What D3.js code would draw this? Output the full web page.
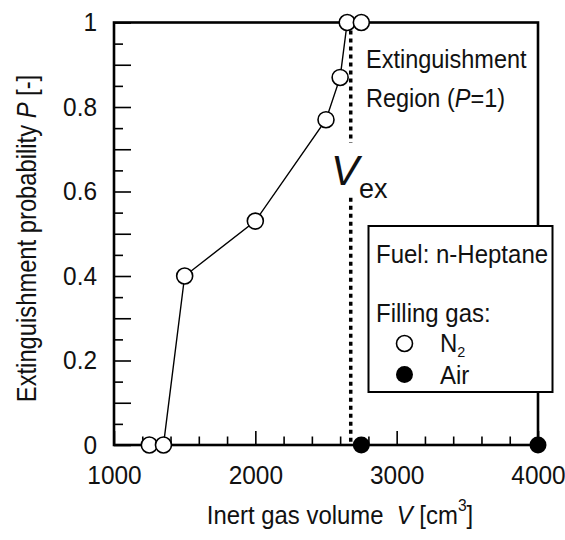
<!DOCTYPE html>
<html>
<head>
<meta charset="utf-8">
<script src="https://cdn.jsdelivr.net/npm/d3@7"></script>
<style>
  html, body { margin: 0; padding: 0; background: #fff; }
  svg { display: block; font-family: "Liberation Sans", Arial, sans-serif; }
</style>
</head>
<body>
<svg id="chart" width="565" height="540"></svg>
<script>
// Extinguishment probability vs. injected inert gas volume (n-heptane fuel)
const n2Volume = [1250, 1350, 1500, 2000, 2500, 2600, 2650, 2750];
const n2Prob   = [0,    0,    0.40, 0.53, 0.77, 0.87, 1.00, 1.00];
const airVolume = [2750, 4000];
const airProb   = [0,    0];
const vEx = 2675;

const xMajorTicks = [1000, 2000, 3000, 4000];
const xMinorTicks = [1200, 1400, 1600, 1800, 2200, 2400, 2600, 2800,
                     3200, 3400, 3600, 3800];
const yMajorTicks = [0, 0.1, 0.2, 0.3, 0.4, 0.5, 0.6, 0.7, 0.8, 0.9, 1];
const yMinorTicks = [0.05, 0.15, 0.25, 0.35, 0.45, 0.55, 0.65, 0.75, 0.85, 0.95];
const yLabelTicks = [0, 0.2, 0.4, 0.6, 0.8, 1];

const FONT = '"Liberation Sans", Arial, sans-serif';
const INK = "#111";

const svg = d3.select("#chart");
const x = d3.scaleLinear().domain([1000, 4000]).range([114, 538]);
const y = d3.scaleLinear().domain([0, 1]).range([445, 22.5]);

const n2 = n2Volume.map((v, i) => ({ v, p: n2Prob[i] }));
const air = airVolume.map((v, i) => ({ v, p: airProb[i] }));

// text placed at (px, py) in a slightly condensed face
function label(parent, px, py, size, sx, rotate = 0) {
  return parent.append("g")
    .attr("transform", `translate(${px},${py}) rotate(${rotate}) scale(${sx},1)`)
    .append("text").attr("font-size", size).attr("fill", INK).attr("font-family", FONT);
}

// inward ticks
const tickScaleX = 0.94;
const yFmt = d => yLabelTicks.includes(d) ? d3.format("")(d) : "";
const gy = svg.append("g").attr("transform", `translate(${x(1000)},0)`);
gy.call(d3.axisLeft(y).tickValues(yMajorTicks).tickSize(-17).tickPadding(17).tickFormat(yFmt));
const gyMinor = svg.append("g").attr("transform", `translate(${x(1000)},0)`);
gyMinor.call(d3.axisLeft(y).tickValues(yMinorTicks).tickSize(-9).tickFormat(""));

const gx = svg.append("g").attr("transform", `translate(0,${y(0)})`);
gx.call(d3.axisBottom(x).tickValues(xMajorTicks).tickSize(-14).tickPadding(39).tickFormat(d3.format("")));
const gxMinor = svg.append("g").attr("transform", `translate(0,${y(0)})`);
gxMinor.call(d3.axisBottom(x).tickValues(xMinorTicks).tickSize(-8.5).tickFormat(""));

[gy, gyMinor, gx, gxMinor].forEach(g => {
  g.select(".domain").remove();
  g.selectAll(".tick line").attr("stroke", "#000").attr("stroke-width", 1.6);
  g.selectAll(".tick text").attr("fill", INK).attr("font-size", 26)
    .attr("font-family", FONT).attr("transform", `scale(${tickScaleX},1)`);
});
gy.selectAll(".tick text").attr("x", -17 / tickScaleX);
gx.selectAll(".tick text").attr("dy", 0);

// plot frame
svg.append("rect")
  .attr("x", x(1000)).attr("y", y(1))
  .attr("width", x(4000) - x(1000)).attr("height", y(0) - y(1))
  .attr("fill", "none").attr("stroke", "#000").attr("stroke-width", 2.6);

// V_ex boundary (dotted), interrupted by its label
const vexSegments = [[1, 0.715], [0.585, 0]];
svg.append("g").selectAll("line").data(vexSegments).join("line")
  .attr("x1", x(vEx)).attr("x2", x(vEx))
  .attr("y1", d => y(d[0])).attr("y2", d => y(d[1]))
  .attr("stroke", "#000").attr("stroke-width", 3.5).attr("stroke-dasharray", "4 4");

// N2 connecting line up to the first P=1 point
const lineData = n2.slice(0, n2.findIndex(d => d.p === 1) + 1);
svg.append("path")
  .datum(lineData)
  .attr("fill", "none").attr("stroke", "#000").attr("stroke-width", 1.4)
  .attr("d", d3.line().x(d => x(d.v)).y(d => y(d.p)));

svg.append("g").selectAll("circle").data(n2).join("circle")
  .attr("cx", d => x(d.v)).attr("cy", d => y(d.p)).attr("r", 8)
  .attr("fill", "#fff").attr("stroke", "#000").attr("stroke-width", 1.6);

svg.append("g").selectAll("circle").data(air).join("circle")
  .attr("cx", d => x(d.v)).attr("cy", d => y(d.p)).attr("r", 8.5)
  .attr("fill", "#000");

// annotations
label(svg, 366, 68, 25, 0.94).text("Extinguishment");
const l2 = label(svg, 366, 107, 25, 0.94);
l2.append("tspan").text("Region (");
l2.append("tspan").attr("font-style", "italic").text("P");
l2.append("tspan").text("=1)");

const vt = svg.append("text").attr("x", 331).attr("y", 185).attr("fill", INK);
vt.append("tspan").attr("font-size", 42).attr("font-style", "italic").text("V");
vt.append("tspan").attr("font-size", 27).attr("dy", 13).text("ex");

// legend
const lg = svg.append("g");
lg.append("rect").attr("x", 368.5).attr("y", 226).attr("width", 184).attr("height", 166)
  .attr("fill", "#fff").attr("stroke", "#000").attr("stroke-width", 2);
label(lg, 376, 263, 25, 0.96).text("Fuel: n-Heptane");
label(lg, 376, 322, 25, 0.96).text("Filling gas:");
lg.append("circle").attr("cx", 404.5).attr("cy", 343.5).attr("r", 8)
  .attr("fill", "#fff").attr("stroke", "#000").attr("stroke-width", 1.6);
lg.append("circle").attr("cx", 404.5).attr("cy", 374.5).attr("r", 8.5).attr("fill", "#000");
const n2t = label(lg, 440, 352, 25, 0.96);
n2t.append("tspan").text("N");
n2t.append("tspan").attr("font-size", 15).attr("dy", 5).text("2");
label(lg, 440, 384, 25, 0.96).text("Air");

// axis titles
const xt = label(svg, 340, 524, 26, 0.92).attr("text-anchor", "middle");
xt.append("tspan").text("Inert gas volume\u00a0 ");
xt.append("tspan").attr("font-style", "italic").text("V");
xt.append("tspan").text(" [cm");
xt.append("tspan").attr("font-size", 17).attr("dy", -13).text("3");
xt.append("tspan").attr("dy", 13).text("]");

const yt = label(svg, 36, 238.5, 27, 0.88, -90).attr("text-anchor", "middle");
yt.append("tspan").text("Extinguishment probability ");
yt.append("tspan").attr("font-style", "italic").text("P");
yt.append("tspan").text(" [-]");
</script>
</body>
</html>
